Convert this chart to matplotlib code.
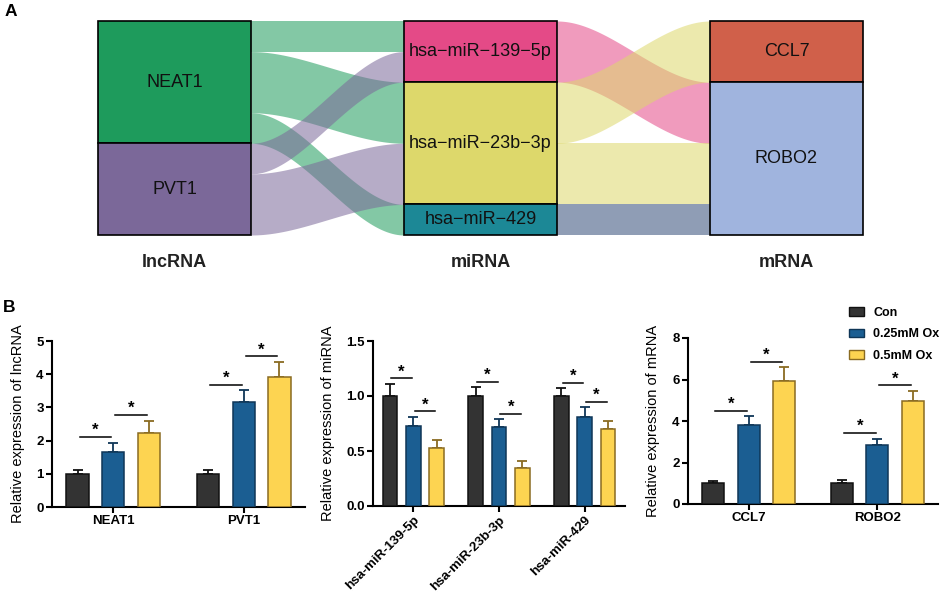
import numpy as np
import matplotlib
matplotlib.use("Agg")
import matplotlib.pyplot as plt
from matplotlib.patches import Rectangle, Patch
from matplotlib.ticker import FormatStrFormatter

plt.rcParams["font.family"] = ["Liberation Sans", "DejaVu Sans"]

# ---------------- panel A: sankey data ----------------
lnc_names = ["NEAT1", "PVT1"]
mir_names = ["hsa−miR−139−5p", "hsa−miR−23b−3p", "hsa−miR−429"]
mrna_names = ["CCL7", "ROBO2"]
lnc_colors = ["#1e9b5c", "#7b6899"]
mir_colors = ["#e44a87", "#ddd86b", "#1c8896"]
mrna_colors = ["#d0604a", "#a0b4de"]
column_titles = ["lncRNA", "miRNA", "mRNA"]

# (source, target, weight)
lnc_mir_links = [
    ("NEAT1", "hsa−miR−139−5p", 1),
    ("NEAT1", "hsa−miR−23b−3p", 2),
    ("NEAT1", "hsa−miR−429", 1),
    ("PVT1", "hsa−miR−139−5p", 1),
    ("PVT1", "hsa−miR−23b−3p", 2),
]
mir_mrna_links = [
    ("hsa−miR−139−5p", "ROBO2", 2),
    ("hsa−miR−23b−3p", "CCL7", 2),
    ("hsa−miR−23b−3p", "ROBO2", 2),
    ("hsa−miR−429", "ROBO2", 1),
]
flow_colors = {
    "NEAT1": "#1e9b5c",
    "PVT1": "#7b6899",
    "hsa−miR−139−5p": "#e44a87",
    "hsa−miR−23b−3p": "#ddd86b",
    "hsa−miR−429": "#334d78",
}

# ---------------- panel B: bar data ----------------
groups = ["Con", "0.25mM Ox", "0.5mM Ox"]
bar_colors = ["#333333", "#1b5e92", "#fdd451"]
edge_colors = ["#111111", "#0f3657", "#8a6b22"]
sig_pairs = [(0, 1), (1, 2)]

lnc_genes = ["NEAT1", "PVT1"]
lnc_mean = [[1.0, 1.0], [1.67, 3.15], [2.22, 3.93]]
lnc_err = [[0.11, 0.10], [0.27, 0.37], [0.38, 0.44]]

mir_genes = ["hsa-miR-139-5p", "hsa-miR-23b-3p", "hsa-miR-429"]
mir_mean = [[1.0, 1.0, 1.0], [0.73, 0.715, 0.81], [0.53, 0.345, 0.70]]
mir_err = [[0.11, 0.08, 0.07], [0.08, 0.075, 0.09], [0.07, 0.065, 0.07]]

mrna_genes = ["CCL7", "ROBO2"]
mrna_mean = [[1.0, 1.0], [3.82, 2.83], [5.94, 4.95]]
mrna_err = [[0.10, 0.14], [0.40, 0.32], [0.66, 0.50]]

W, H = 941, 592
fig = plt.figure(figsize=(W / 100, H / 100), dpi=100)


def px_axes(left, top, right, bottom):
    return fig.add_axes([left / W, 1 - bottom / H, (right - left) / W, (bottom - top) / H])


def stack(names, links, key):
    sizes = {n: 0 for n in names}
    for link in links:
        sizes[link[key]] += link[2]
    return sizes


def sigmoid_band(ax, x0, x1, a0, a1, b0, b1, color):
    xs = np.linspace(x0, x1, 120)
    t = (xs - x0) / (x1 - x0)
    s = t * t * (3 - 2 * t)
    ax.fill_between(xs, a0 + (b0 - a0) * s, a1 + (b1 - a1) * s,
                    color=color, alpha=0.55, lw=0, zorder=1)


def draw_links(ax, links, src_names, tgt_names, x0, x1):
    src_pos = {}
    y = 0
    for n in src_names:
        src_pos[n] = y
        y += sum(l[2] for l in links if l[0] == n)
    tgt_pos = {}
    y = 0
    for n in tgt_names:
        tgt_pos[n] = y
        y += sum(l[2] for l in links if l[1] == n)
    starts = {}
    for l in sorted(links, key=lambda l: (src_names.index(l[0]), tgt_names.index(l[1]))):
        starts[l[:2]] = src_pos[l[0]]
        src_pos[l[0]] += l[2]
    ends = {}
    for l in sorted(links, key=lambda l: (tgt_names.index(l[1]), src_names.index(l[0]))):
        ends[l[:2]] = tgt_pos[l[1]]
        tgt_pos[l[1]] += l[2]
    for l in links:
        s0 = starts[l[:2]]
        e0 = ends[l[:2]]
        sigmoid_band(ax, x0, x1, s0, s0 + l[2], e0, e0 + l[2], flow_colors[l[0]])


# ---- sankey ----
axs = px_axes(98, 21, 863, 235)
col_x = [0, 2, 4]
node_w = 1
columns = [
    (lnc_names, lnc_colors, stack(lnc_names, lnc_mir_links, 0)),
    (mir_names, mir_colors, stack(mir_names, lnc_mir_links, 1)),
    (mrna_names, mrna_colors, stack(mrna_names, mir_mrna_links, 1)),
]
total = sum(columns[0][2].values())

draw_links(axs, lnc_mir_links, lnc_names, mir_names, col_x[0] + node_w, col_x[1])
draw_links(axs, mir_mrna_links, mir_names, mrna_names, col_x[1] + node_w, col_x[2])

for ci, (names, colors, sizes) in enumerate(columns):
    y = 0
    for name, color in zip(names, colors):
        axs.add_patch(Rectangle((col_x[ci], y), node_w, sizes[name], facecolor=color,
                                edgecolor="black", lw=1.2, zorder=3, clip_on=False))
        axs.text(col_x[ci] + node_w / 2, y + sizes[name] / 2, name, ha="center",
                 va="center", fontsize=13, color="#111111", zorder=4)
        y += sizes[name]
    axs.text(col_x[ci] + node_w / 2, total + 0.9, column_titles[ci], ha="center",
             va="center", fontsize=13, fontweight="bold", color="#222222")

axs.set_xlim(0, 5)
axs.set_ylim(total, 0)
axs.axis("off")


# ---- bar panels ----
def bar_panel(ax, genes, means, errs, ymax, yticks, ylabel, label_x, rotate=False):
    x = np.arange(len(genes))
    offsets = [-0.274, 0, 0.274]
    width = 0.17
    for k in range(len(groups)):
        xs = x + offsets[k]
        ax.bar(xs, means[k], width, color=bar_colors[k], edgecolor=edge_colors[k],
               linewidth=1.1, zorder=3, label=groups[k])
        ax.errorbar(xs, means[k], yerr=[np.zeros(len(genes)), errs[k]], fmt="none",
                    ecolor=edge_colors[k], elinewidth=1.3, capsize=3.6, capthick=1.3,
                    zorder=2)
    for g in range(len(genes)):
        for i, j in sig_pairs:
            top = max(means[i][g] + errs[i][g], means[j][g] + errs[j][g])
            ly = top + 0.033 * ymax
            xi = g + offsets[i] + 0.015
            xj = g + offsets[j] - 0.015
            ax.plot([xi, xj], [ly, ly], color="black", lw=1.1, zorder=4)
            ax.annotate("*", xy=((xi + xj) / 2, ly), xytext=(0, 1.5),
                        textcoords="offset points", ha="center", va="baseline",
                        fontsize=12, fontweight="bold")
    ax.set_xlim(-0.47, len(genes) - 1 + 0.47)
    ax.set_ylim(0, ymax)
    ax.set_yticks(yticks)
    ax.set_xticks(x)
    if rotate:
        ax.set_xticklabels(genes, rotation=45, ha="right", rotation_mode="anchor")
    else:
        ax.set_xticklabels(genes)
    for lab in ax.get_xticklabels() + ax.get_yticklabels():
        lab.set_fontweight("bold")
        lab.set_fontsize(9.5)
    ax.spines["top"].set_visible(False)
    ax.spines["right"].set_visible(False)
    for sp in ("left", "bottom"):
        ax.spines[sp].set_linewidth(1.5)
    ax.tick_params(axis="both", width=1.5, length=4, pad=2)
    ax.set_ylabel(ylabel, fontsize=10.5)
    ax.yaxis.set_label_coords(label_x, 0.5)


ax1 = px_axes(52, 341, 305, 507)
bar_panel(ax1, lnc_genes, lnc_mean, lnc_err, 5, [0, 1, 2, 3, 4, 5],
          "Relative expression of lncRNA", -0.107)

ax2 = px_axes(373, 341, 625, 506)
bar_panel(ax2, mir_genes, mir_mean, mir_err, 1.5, [0.0, 0.5, 1.0, 1.5],
          "Relative expression of miRNA", -0.151, rotate=True)
ax2.yaxis.set_major_formatter(FormatStrFormatter("%.1f"))

ax3 = px_axes(688, 338, 938, 504)
bar_panel(ax3, mrna_genes, mrna_mean, mrna_err, 8, [0, 2, 4, 6, 8],
          "Relative expression of mRNA", -0.112)

handles = [Patch(facecolor=c, edgecolor=e, lw=1.0) for c, e in zip(bar_colors, edge_colors)]
fig.legend(handles, groups, loc="upper left", bbox_to_anchor=(849 / W, 1 - 307 / H),
           frameon=False, borderpad=0, borderaxespad=0, handlelength=1.2,
           handleheight=0.65, handletextpad=0.75, labelspacing=0.75,
           prop={"weight": "bold", "size": 9})

fig.text(11 / W, 1 - 12 / H, "A", fontsize=12.5, fontweight="bold", ha="center", va="center")
fig.text(9 / W, 1 - 308 / H, "B", fontsize=12.5, fontweight="bold", ha="center", va="center")

fig.savefig("out.png", dpi=100)
